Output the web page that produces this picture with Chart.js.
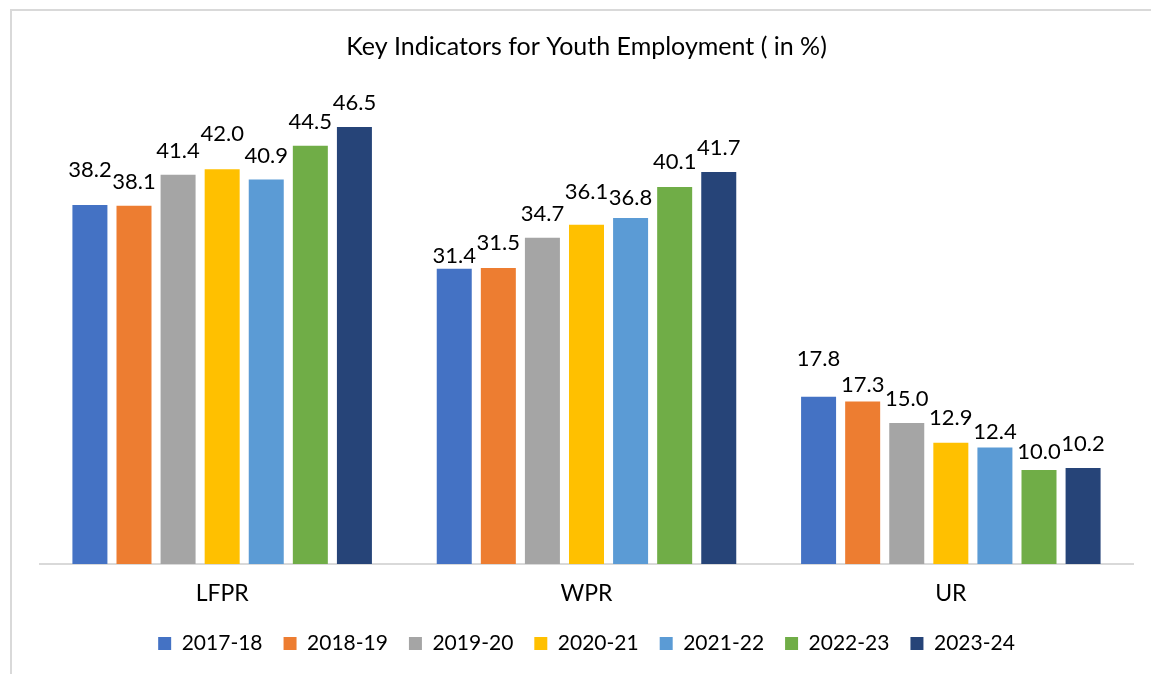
<!DOCTYPE html>
<html lang="en">
  <head>
    <meta charset="UTF-8" />
    <title>Key Indicators for Youth Employment</title>
    <script src="https://cdn.jsdelivr.net/npm/chart.js"></script>
    <style>
      body { margin: 0; background: #fff; overflow: hidden; }
      .grafico { position: absolute; left: 0; top: 0; width: 1151px; height: 674px; }
      .moldura { position: absolute; left: 10px; top: 9px; width: 1200px; height: 700px;
        border: 2px solid #d9d9d9; pointer-events: none; }
    </style>
  </head>
  <body>
    <div class="moldura"></div>
    <div class="grafico">
      <canvas id="myCanvas" width="1151" height="674"></canvas>
    </div>
    <script>
      const indicadores = ["LFPR", "WPR", "UR"];
      const anos = ["2017-18", "2018-19", "2019-20", "2020-21", "2021-22", "2022-23", "2023-24"];
      const cores = ["#4472C4", "#ED7D31", "#A5A5A5", "#FFC000", "#5B9BD5", "#70AD47", "#264478"];

      // valores por ano: [LFPR, WPR, UR]
      const v2017 = [38.2, 31.4, 17.8];
      const v2018 = [38.1, 31.5, 17.3];
      const v2019 = [41.4, 34.7, 15.0];
      const v2020 = [42.0, 36.1, 12.9];
      const v2021 = [40.9, 36.8, 12.4];
      const v2022 = [44.5, 40.1, 10.0];
      const v2023 = [46.5, 41.7, 10.2];
      const valores = [v2017, v2018, v2019, v2020, v2021, v2022, v2023];

      const fonte = "Lato, 'Open Sans', sans-serif";

      // rotulos que foram arrastados no original (px a mais para cima), por indicador
      const ajusteRotulo = [
        [11, 0, 0, 11, 0, 0, 0],
        [-11, 1, 0, 9, -4, 1, 0],
        [14, -8, 0, 1, -9, -6, 0],
      ];

      // escreve o valor em cima de cada barra
      const rotulos = {
        id: "rotulos",
        afterDatasetsDraw(chart) {
          const ctx = chart.ctx;
          ctx.save();
          ctx.font = "22px " + fonte;
          ctx.fillStyle = "#000";
          ctx.textAlign = "center";
          ctx.textBaseline = "alphabetic";
          chart.data.datasets.forEach((ds, i) => {
            chart.getDatasetMeta(i).data.forEach((bar, j) => {
              ctx.fillText(ds.data[j].toFixed(1), bar.x, bar.y - 17 - ajusteRotulo[j][i]);
            });
          });
          ctx.restore();
        },
      };

      let datasets = [];
      for (let i = 0; i < anos.length; i++) {
        datasets.push({
          label: anos[i],
          data: valores[i],
          backgroundColor: cores[i],
          borderWidth: 0,
          categoryPercentage: 0.847,
          barPercentage: 0.794,
        });
      }

      const config = {
        type: "bar",
        data: { labels: indicadores, datasets: datasets },
        plugins: [rotulos],
        options: {
          responsive: false,
          animation: false,
          layout: { padding: { left: 40, right: 18, top: 32, bottom: 10 } },
          scales: {
            x: {
              grid: { display: false },
              border: { display: true, color: "#d9d9d9", width: 2 },
              ticks: { color: "#000", font: { family: fonte, size: 23 }, padding: 8 },
              afterFit(scale) {
                scale.height = 48;
              },
            },
            y: {
              display: false,
              min: 0,
              max: 50,
            },
          },
          plugins: {
            title: {
              display: true,
              text: "Key Indicators for Youth Employment ( in %)",
              color: "#000",
              font: { family: fonte, size: 25, weight: "normal" },
              padding: { top: 0, bottom: 32 },
            },
            legend: {
              position: "bottom",
              labels: {
                color: "#000",
                font: { family: fonte, size: 21 },
                boxWidth: 13,
                boxHeight: 13,
                padding: 21,
              },
            },
            tooltip: { enabled: false },
          },
        },
      };

      new Chart(document.getElementById("myCanvas"), config);
    </script>
  </body>
</html>
